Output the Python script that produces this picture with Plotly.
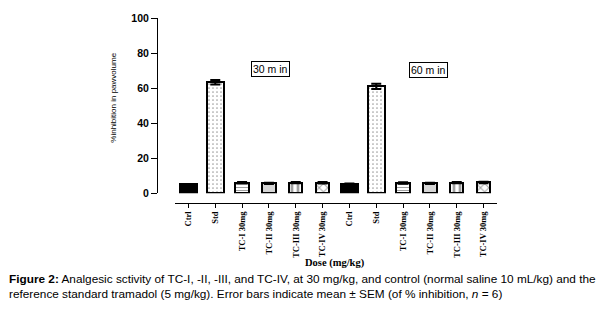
import plotly.graph_objects as go

# ---- data ----
groups = ["30 min", "60 min"]
labels = ["Ctrl", "Std", "TC-I 30mg", "TC-II 30mg", "TC-III 30mg", "TC-IV 30mg"]
values_30 = [5.3, 63.3, 6.0, 5.6, 6.0, 5.9]
sem_30 = [0.0, 1.3, 0.4, 0.3, 0.4, 0.4]
values_60 = [5.5, 61.0, 5.8, 5.6, 6.0, 6.1]
sem_60 = [0.0, 1.5, 0.4, 0.3, 0.4, 0.4]
y_ticks = [0, 20, 40, 60, 80, 100]

# ---- styles ----
pattern_shapes = ["", ".", "-", ".", "|", "x"]
pattern_sizes = [8, 4, 3, 2, 6, 6]
pattern_solid = [0.3, 0.15, 0.35, 0.5, 0.45, 0.3]
fill_colors = ["black", "white", "white", "white", "white", "white"]
bar_widths = [0.63, 0.62, 0.5, 0.5, 0.5, 0.5]

categories = [f"{lab}|{g}" for g in groups for lab in labels]
tick_text = labels * len(groups)
values = values_30 + values_60
sems = sem_30 + sem_60

fig = go.Figure()
fig.add_trace(go.Bar(
    x=categories,
    y=values,
    width=bar_widths * 2,
    marker=dict(
        color=fill_colors * 2,
        line=dict(color="black", width=2),
        pattern=dict(
            shape=pattern_shapes * 2,
            fgcolor="black",
            bgcolor="white",
            size=pattern_sizes * 2,
            solidity=pattern_solid * 2,
        ),
    ),
    error_y=dict(type="data", array=sems, visible=True, color="black",
                 thickness=2, width=5),
    showlegend=False,
))

L, R, T, B = 157, 107, 15, 123
fig.update_layout(
    width=604, height=326,
    margin=dict(l=L, r=R, t=T, b=B, pad=0),
    paper_bgcolor="white", plot_bgcolor="white",
    font=dict(family="Liberation Sans, Arial", color="black"),
    bargap=0,
    xaxis=dict(
        type="category",
        categoryorder="array", categoryarray=categories,
        tickvals=categories, ticktext=tick_text,
        tickangle=-90,
        tickfont=dict(family="Liberation Serif, Times New Roman", size=8.5, color="black", weight="bold"),
        showline=True, linecolor="black", linewidth=1,
        ticks="outside", ticklen=4, tickcolor="black",
        showgrid=False, zeroline=False,
        domain=[18 / 340, 1],
        anchor="free", position=0,
    ),
    yaxis=dict(
        range=[0, 100],
        tickvals=y_ticks,
        tickfont=dict(family="Liberation Sans, Arial", size=10.5, color="black", weight="bold"),
        showline=True, linecolor="black", linewidth=1,
        ticks="outside", ticklen=6, tickcolor="black",
        showgrid=False, zeroline=False,
        domain=[10 / 188, 1],
        anchor="free", position=0,
    ),
)

H = 326 - T - B
W = 604 - L - R

def px(xp):
    return (xp - L) / W

def py(yp):
    return (326 - B - yp) / H

annotations = [
    dict(text="30 m in", x=px(270), y=py(67), xref="paper", yref="paper",
         xanchor="center", yanchor="middle",
         showarrow=False, font=dict(size=10.5), bordercolor="black", borderwidth=1,
         borderpad=1, bgcolor="white"),
    dict(text="60 m in", x=px(428), y=py(68), xref="paper", yref="paper",
         xanchor="center", yanchor="middle",
         showarrow=False, font=dict(size=10.5), bordercolor="black", borderwidth=1,
         borderpad=1, bgcolor="white"),
    dict(text="%inhibition in pawvolume", x=px(114), y=py(96), xref="paper", yref="paper",
         xanchor="center", yanchor="middle",
         textangle=-90, showarrow=False, font=dict(size=8)),
    dict(text="<b>Dose (mg/kg)</b>", x=px(335), y=py(264), xref="paper", yref="paper",
         xanchor="center", yanchor="middle",
         showarrow=False, font=dict(family="Liberation Serif, Times New Roman", size=10.5)),
    dict(text="<b>Figure 2:</b> Analgesic sctivity of TC-I, -II, -III, and TC-IV, at 30 mg/kg, and control (normal saline 10 mL/kg) and the<br>"
              "reference standard tramadol (5 mg/kg). Error bars indicate mean ± SEM (of % inhibition, <i>n</i> = 6)",
         x=px(7), y=py(271), xref="paper", yref="paper", xanchor="left", yanchor="top",
         align="left", showarrow=False, font=dict(size=11.8)),
]
fig.update_layout(annotations=annotations)

fig.write_html("out.html")
